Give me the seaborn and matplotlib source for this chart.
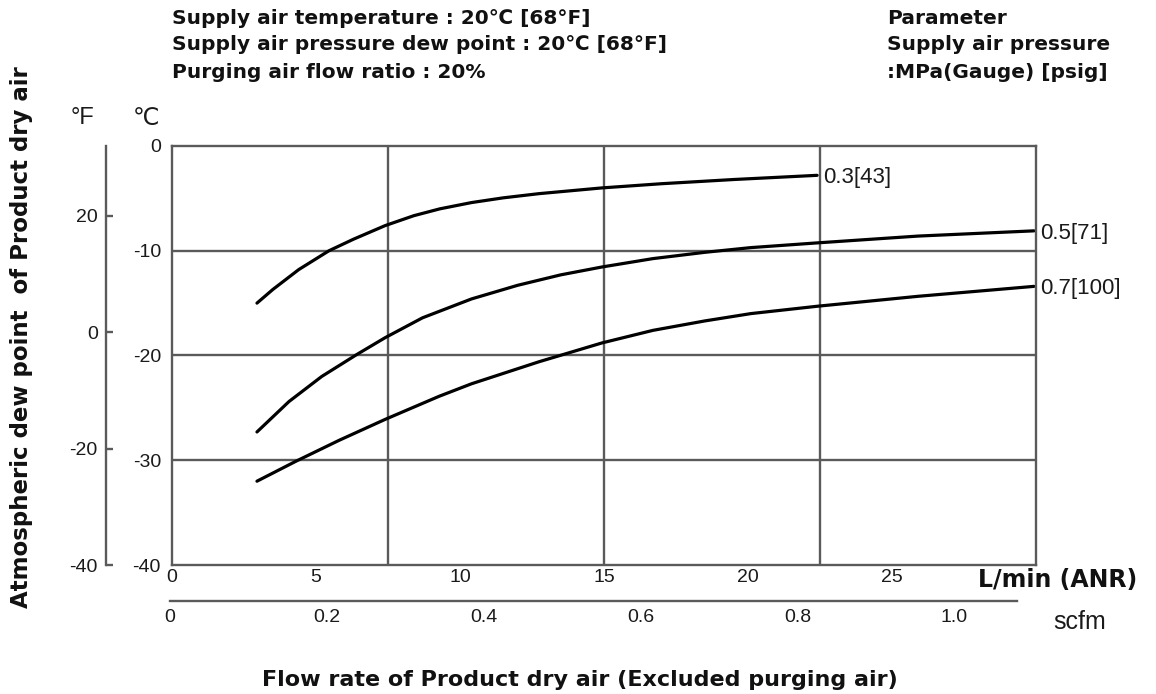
import pandas as pd
import seaborn as sns
import matplotlib.pyplot as plt

# Values: product air flow (L/min ANR) -> dew point (degC)
flow_03 = [2.95, 3.5, 4.4, 5.45, 6.3, 7.4, 8.4, 9.3, 10.4, 11.5, 12.74, 14.93, 17.0, 19.5, 22.4]
dew_03 = [-15.0, -13.7, -11.8, -10.0, -8.9, -7.6, -6.65, -6.0, -5.4, -4.95, -4.55, -4.0, -3.6, -3.2, -2.8]

flow_05 = [2.95, 4.06, 5.2, 6.42, 7.4, 8.7, 10.4, 12.0, 13.5, 14.93, 16.7, 18.5, 20.1, 22.4, 25.9, 29.93]
dew_05 = [-27.3, -24.4, -22.0, -19.9, -18.3, -16.4, -14.6, -13.3, -12.3, -11.55, -10.75, -10.15,
          -9.7, -9.25, -8.6, -8.1]

flow_07 = [2.95, 4.3, 5.8, 7.4, 9.27, 10.4, 12.74, 14.93, 16.7, 18.5, 20.1, 22.4, 25.9, 29.93]
dew_07 = [-32.0, -30.1, -28.1, -26.1, -23.9, -22.7, -20.6, -18.8, -17.6, -16.7, -16.0, -15.3,
          -14.35, -13.4]

curve_names = ["0.3[43]", "0.5[71]", "0.7[100]"]

c_ticks = [0, -10, -20, -30, -40]
f_ticks = [20, 0, -20, -40]
lmin_ticks = [0, 5, 10, 15, 20, 25]
scfm_ticks = [0, 0.2, 0.4, 0.6, 0.8, 1.0]
scfm_labels = ["0", "0.2", "0.4", "0.6", "0.8", "1.0"]

df = pd.concat([
    pd.DataFrame({"flow": flow_03, "dew": dew_03, "pressure": curve_names[0]}),
    pd.DataFrame({"flow": flow_05, "dew": dew_05, "pressure": curve_names[1]}),
    pd.DataFrame({"flow": flow_07, "dew": dew_07, "pressure": curve_names[2]}),
])

sns.set_style("white")
plt.rcParams["font.family"] = ["Liberation Sans", "DejaVu Sans"]
grey = "#5a5a5a"
txt = "#1a1a1a"

fig = plt.figure(figsize=(11.56, 6.94), dpi=100)
ax = fig.add_axes([172 / 1156, 1 - 565 / 694, 864 / 1156, 419 / 694])

sns.lineplot(data=df, x="flow", y="dew", hue="pressure", palette=["black"] * 3,
             linewidth=2.3, legend=False, sort=True, estimator=None, ax=ax,
             solid_joinstyle="round", solid_capstyle="round")

ax.set_xlim(0, 30)
ax.set_ylim(-40, 0)

# grid lines
for gx in [7.5, 15, 22.5]:
    ax.axvline(gx, color=grey, lw=1.7, zorder=0)
for gy in [-10, -20, -30]:
    ax.axhline(gy, color=grey, lw=1.7, zorder=0)

for s in ax.spines.values():
    s.set_color(grey)
    s.set_linewidth(1.7)

ax.set_xticks(lmin_ticks)
ax.set_xticklabels([str(t) for t in lmin_ticks])
ax.set_yticks(c_ticks)
ax.set_yticklabels([str(t) for t in c_ticks])
ax.tick_params(axis="both", length=0, labelsize=14, colors=txt)
ax.tick_params(axis="x", pad=3)
ax.tick_params(axis="y", pad=8)
ax.set_xlabel("")
ax.set_ylabel("")

# curve labels at the end of each line
for name, fl, dw in zip(curve_names, [flow_03, flow_05, flow_07], [dew_03, dew_05, dew_07]):
    ax.text(fl[-1] + 0.2, dw[-1] - 0.25, name, va="center", ha="left", fontsize=16,
            family=["Liberation Sans Narrow", "Liberation Sans", "DejaVu Sans"], color=txt, clip_on=False)

# Fahrenheit axis on the left
fax = ax.secondary_yaxis(-0.0764, functions=(lambda c: c * 9 / 5 + 32, lambda f: (f - 32) * 5 / 9))
fax.set_yticks(f_ticks)
fax.set_yticklabels([str(t) for t in f_ticks])
fax.tick_params(direction="in", length=5, width=1.7, color=grey, labelsize=14,
                labelcolor=txt, pad=6)
fax.spines["left"].set_color(grey)
fax.spines["left"].set_linewidth(1.7)

# scfm axis below
sax = fig.add_axes([170 / 1156, 1 - 601 / 694, 847 / 1156, 0.0001])
sax.set_xlim(0, 1.08)
sax.set_xticks(scfm_ticks)
sax.set_xticklabels(scfm_labels)
sax.set_yticks([])
for k in ["top", "left", "right"]:
    sax.spines[k].set_visible(False)
sax.spines["bottom"].set_color(grey)
sax.spines["bottom"].set_linewidth(1.7)
sax.tick_params(axis="x", direction="in", length=5, width=1.7, color=grey,
                labelsize=14, labelcolor=txt, pad=6)
sax.patch.set_visible(False)

# texts
bold = dict(fontweight="bold", family=["DejaVu Sans"], color="#111111")
hs = 14.5
fig.text(172 / 1156, 1 - 18 / 694, "Supply air temperature : 20℃ [68°F]", fontsize=hs, va="center", **bold)
fig.text(172 / 1156, 1 - 45 / 694, "Supply air pressure dew point : 20℃ [68°F]", fontsize=hs, va="center", **bold)
fig.text(172 / 1156, 1 - 72 / 694, "Purging air flow ratio : 20%", fontsize=hs, va="center", **bold)
fig.text(887 / 1156, 1 - 18 / 694, "Parameter", fontsize=hs, va="center", **bold)
fig.text(887 / 1156, 1 - 45 / 694, "Supply air pressure", fontsize=hs, va="center", **bold)
fig.text(887 / 1156, 1 - 72 / 694, ":MPa(Gauge) [psig]", fontsize=hs, va="center", **bold)

fig.text(82 / 1156, 1 - 118 / 694, "°F", fontsize=17, ha="center", va="center", color=txt)
fig.text(146 / 1156, 1 - 118 / 694, "℃", fontsize=17, ha="center", va="center", color=txt,
         family=["DejaVu Sans"])

fig.text(22 / 1156, 1 - 337 / 694, "Atmospheric dew point  of Product dry air", rotation=90,
         ha="center", va="center", fontsize=16.5, **bold)
fig.text(1058 / 1156, 1 - 580 / 694, "L/min (ANR)", ha="center", va="center", fontsize=17, **bold)
fig.text(1080 / 1156, 1 - 622 / 694, "scfm", ha="center", va="center", fontsize=18,
         family=["Liberation Sans", "DejaVu Sans"], color=txt)
fig.text(580 / 1156, 1 - 680 / 694, "Flow rate of Product dry air (Excluded purging air)",
         ha="center", va="center", fontsize=16, **bold)

fig.savefig("out.png", dpi=100)
